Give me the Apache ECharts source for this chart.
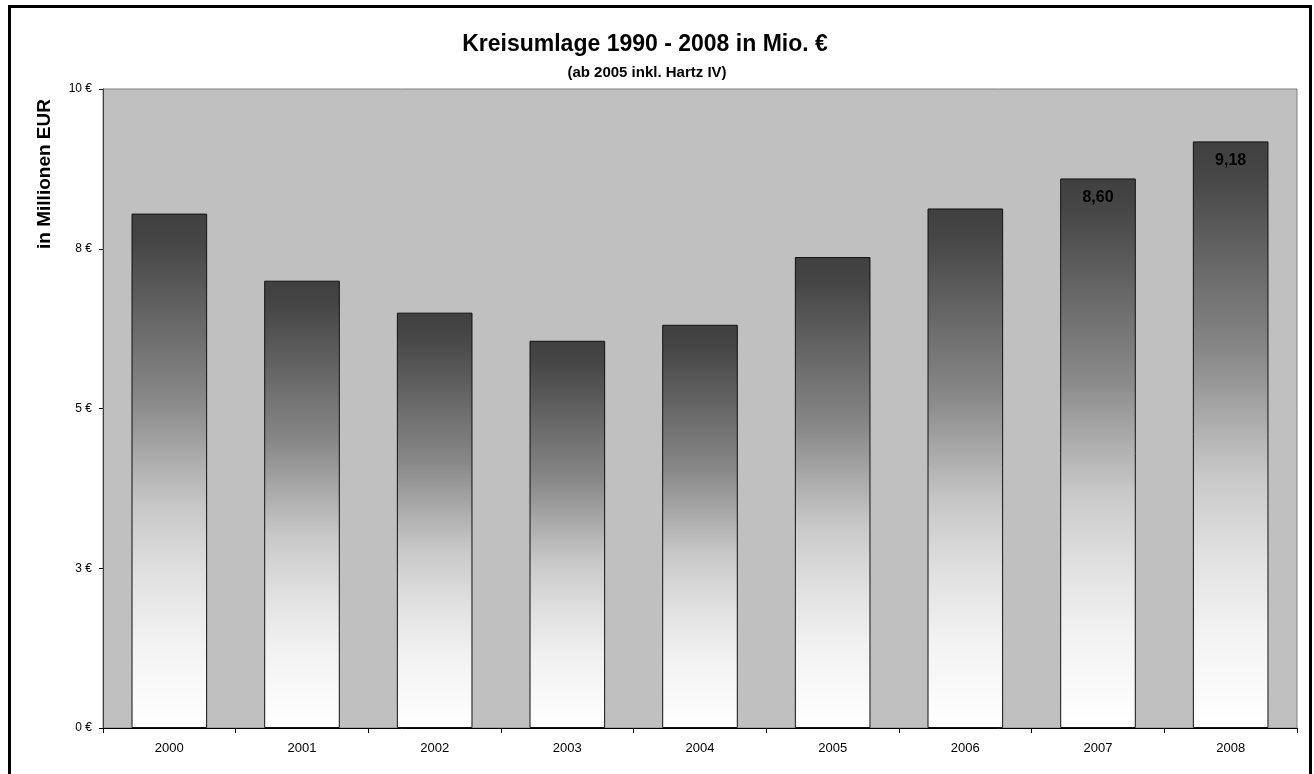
<!DOCTYPE html>
<html>
<head>
<meta charset="utf-8">
<script src="https://cdn.jsdelivr.net/npm/echarts@6/dist/echarts.min.js"></script>
<style>
  html, body { margin: 0; padding: 0; background: #fff; }
  #chart { position: absolute; left: 0; top: 0; width: 1314px; height: 774px; }
  .frame {
    position: absolute; left: 8px; top: 5px; width: 1304px; height: 800px;
    border: 3px solid #000; box-sizing: border-box; pointer-events: none;
  }
</style>
</head>
<body>
<div id="chart"></div>
<div class="frame"></div>
<script>
// Kreisumlage in Mio. EUR
const years = ["2000", "2001", "2002", "2003", "2004", "2005", "2006", "2007", "2008"];
const values = [8.05, 7.00, 6.50, 6.06, 6.31, 7.37, 8.13, 8.60, 9.18];
const labeledYears = ["2007", "2008"];
const yTicks = [0, 2.5, 5, 7.5, 10];

const font = "'Liberation Sans', Arial, sans-serif";
const chart = echarts.init(document.getElementById("chart"));

const barGradient = new echarts.graphic.LinearGradient(0, 0, 0, 1, [
  { offset: 0, color: "#404040" },
  { offset: 0.05, color: "#454545" },
  { offset: 0.23, color: "#6c6c6c" },
  { offset: 0.36, color: "#888888" },
  { offset: 0.49, color: "#b0b0b0" },
  { offset: 0.57, color: "#c8c8c8" },
  { offset: 0.7, color: "#e0e0e0" },
  { offset: 0.83, color: "#f2f2f2" },
  { offset: 1, color: "#ffffff" }
]);

const seriesData = values.map((v, i) => ({
  value: v,
  label: { show: labeledYears.includes(years[i]) }
}));

chart.setOption({
  animation: false,
  textStyle: { fontFamily: font },
  title: [{
    text: "Kreisumlage 1990 - 2008 in Mio. €",
    left: 640, top: 28, textAlign: "center",
    textStyle: { fontSize: 23, fontWeight: "bold", color: "#000", fontFamily: font }
  }, {
    text: "(ab 2005 inkl. Hartz IV)",
    left: 642, top: 60, textAlign: "center",
    textStyle: { fontSize: 15, fontWeight: "bold", color: "#000", fontFamily: font }
  }],
  graphic: [{
    type: "text",
    x: 45, y: 174, rotation: Math.PI / 2,
    style: {
      text: "in Millionen EUR",
      align: "center", verticalAlign: "middle",
      font: "bold 19px " + font, fill: "#000"
    }
  }],
  grid: {
    left: 103, top: 89, width: 1194, height: 639,
    show: true, backgroundColor: "#c0c0c0", borderColor: "#808080", borderWidth: 1
  },
  xAxis: {
    type: "category",
    data: years,
    axisLine: { lineStyle: { color: "#000", width: 1 } },
    axisTick: { show: true, length: 5, lineStyle: { color: "#000" } },
    axisLabel: { color: "#000", fontSize: 13, margin: 14, fontFamily: font },
    splitLine: { show: false }
  },
  yAxis: {
    type: "value",
    min: 0, max: 10, interval: 2.5,
    axisLine: { show: true, lineStyle: { color: "#404040", width: 1 } },
    axisTick: { show: true, length: 4, lineStyle: { color: "#000" } },
    axisLabel: {
      color: "#000", fontSize: 12, margin: 11, fontFamily: font,
      formatter: v => yTicks.includes(v) ? Math.round(v) + " €" : ""
    },
    splitLine: { show: false }
  },
  series: [{
    type: "bar",
    data: seriesData,
    barCategoryGap: "43%",
    itemStyle: { color: barGradient, borderColor: "#111", borderWidth: 1 },
    label: {
      position: "insideTop", distance: 11,
      color: "#000", fontWeight: "bold", fontSize: 16, fontFamily: font,
      formatter: p => p.value.toFixed(2).replace(".", ",")
    }
  }]
});
</script>
</body>
</html>
